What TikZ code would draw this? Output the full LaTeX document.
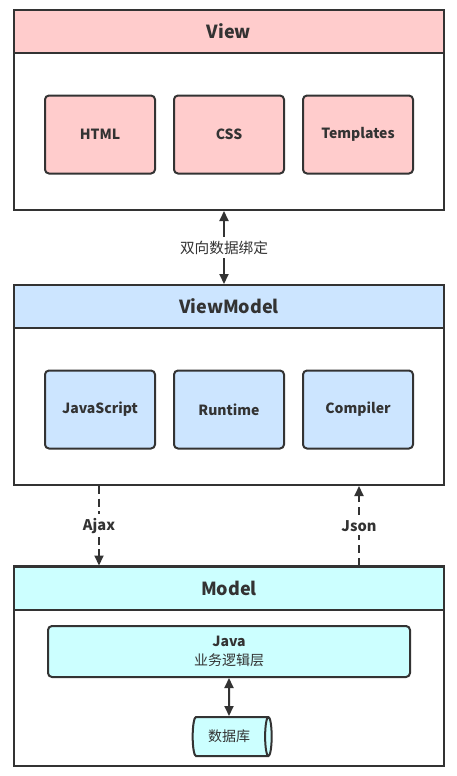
\documentclass[tikz,border=0pt]{standalone}
\usepackage{fontspec}
\setmainfont{Noto Sans CJK SC}
\usetikzlibrary{positioning,shapes.geometric,arrows.meta}

\definecolor{linegray}{HTML}{333333}
\definecolor{viewpink}{HTML}{FFCCCC}
\definecolor{vmblue}{HTML}{CCE5FF}
\definecolor{modelcyan}{HTML}{CCFFFF}

\tikzset{
	layer/.style={draw=linegray, line width=1.5pt, fill=white, minimum width=322.5pt, minimum height=150pt},
	layerhead/.style={draw=linegray, line width=1.5pt, minimum width=322.5pt, minimum height=32.25pt, font=\bfseries\fontsize{13.5}{16}\selectfont, text=linegray},
	part/.style={draw=linegray, line width=1.5pt, rounded corners=3pt, minimum width=82.5pt, minimum height=58.5pt, font=\bfseries\fontsize{10.5}{13}\selectfont, text=linegray},
	lbl/.style={fill=white, inner sep=3pt, text=linegray, font=\fontsize{11}{13}\selectfont},
	biarrow/.style={draw=linegray, line width=1.5pt, {Triangle[width=6.75pt,length=7.5pt]}-{Triangle[width=6.75pt,length=7.5pt]}},
	dasharrow/.style={draw=linegray, line width=1.5pt, dash pattern=on 6pt off 3.5pt, -{Triangle[width=6.75pt,length=7.5pt]}},
}

\begin{document}
\begin{tikzpicture}[x=0.75pt, y=-0.75pt]
	\useasboundingbox (0, 0) rectangle (457, 776);

	% Layers:
	\node[layer] (view) at (229, 110) {};
	\node[layerhead, fill=viewpink] (viewhead) at (229, 31.5) {View};
	\node[layer] (vm) at (229, 385) {};
	\node[layerhead, fill=vmblue] (vmhead) at (229, 306.5) {ViewModel};
	\node[layer] (model) at (229, 665.5) {};
	\node[layerhead, fill=modelcyan] (modelhead) at (229, 588) {Model};

	% Parts:
	\node[part, fill=viewpink] (html) at (100, 134.5) {HTML};
	\node[part, fill=viewpink] (css) at (229, 134.5) {CSS};
	\node[part, fill=viewpink] (tpl) at (358, 134.5) {Templates};

	\node[part, fill=vmblue] (js) at (100, 409.5) {JavaScript};
	\node[part, fill=vmblue] (runtime) at (229, 409.5) {Runtime};
	\node[part, fill=vmblue] (compiler) at (358, 409.5) {Compiler};

	\node[part, fill=modelcyan, minimum width=271.5pt, minimum height=38.25pt, align=center,
		font=\fontsize{10.5}{14}\selectfont] (java) at (229, 651.5) {\textbf{Java}\\业务逻辑层};
	\node[cylinder, draw=linegray, line width=1.5pt, fill=modelcyan, aspect=0.3,
		minimum width=29.25pt, minimum height=59.25pt, text=linegray,
		font=\fontsize{10.5}{13}\selectfont] (db) at (229, 736.5) {数据库};

	% Lines:
	\draw[biarrow] ([xshift=-3.75pt]view.south) -- node[lbl] {双向数据绑定} ([xshift=-3.75pt]vmhead.north);
	\draw[dasharrow] ([xshift=-97.5pt]vm.south) -- node[lbl, font=\bfseries\fontsize{11}{13}\selectfont] {Ajax} ([xshift=-97.5pt]modelhead.north);
	\draw[dasharrow] ([xshift=97.5pt]modelhead.north) -- node[lbl, font=\bfseries\fontsize{11}{13}\selectfont] {Json} ([xshift=97.5pt]vm.south);
	\draw[biarrow] (java.south) -- (db.north);

\end{tikzpicture}
\end{document}
